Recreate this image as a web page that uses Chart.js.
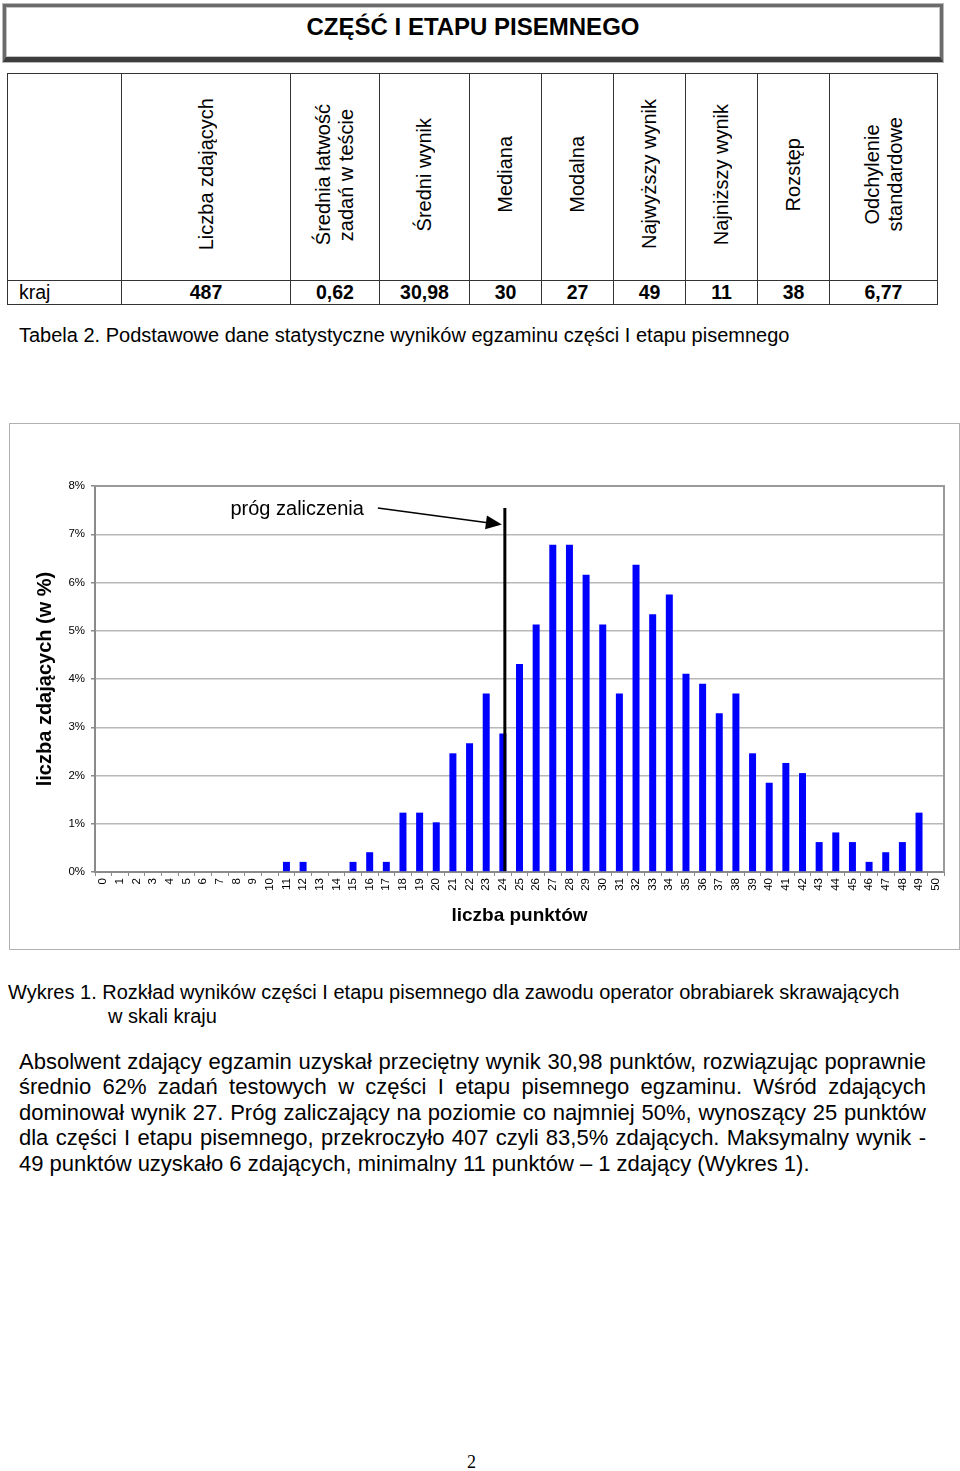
<!DOCTYPE html>
<html lang="pl">
<head>
<meta charset="utf-8">
<title>Część I etapu pisemnego</title>
<script src="https://cdn.jsdelivr.net/npm/chart.js@4"></script>
<style>
  html, body { margin: 0; padding: 0; background: #fff; }
  body { width: 960px; height: 1471px; position: relative; font-family: "Liberation Sans", Arial, sans-serif; color: #000; }
  .abs { position: absolute; }
  .titlebox {
    left: 3px; top: 4px; width: 940px; height: 58px; box-sizing: border-box;
    border: 3px solid #6b6b6b; border-bottom: 5px solid #3d3d3d;
    box-shadow: inset 0 0 0 1px #c4c4c4, 0 0 0 1px #b8b8b8;
    font-weight: bold; font-size: 24px; text-align: center; line-height: 40px;
  }
  table.stats { left: 7px; top: 73px; border-collapse: collapse; table-layout: fixed; width: 930px; }
  table.stats td { border: 1px solid #333; padding: 0; font-size: 19.5px; text-align: center; vertical-align: middle; }
  table.stats tr.head td { height: 206px; }
  table.stats tr.data td { height: 23px; font-weight: bold; line-height: 23px; }
  table.stats tr.data td.lbl { font-weight: normal; text-align: left; padding-left: 11px; }
  .rot { display: inline-block; writing-mode: vertical-rl; transform: rotate(180deg); font-size: 20px; line-height: 23px; text-align: center; white-space: nowrap; }
  .caption { font-size: 20px; line-height: 24px; white-space: nowrap; }
  .chartbox { left: 9px; top: 423px; width: 951px; height: 527px; box-sizing: border-box; border: 1px solid #b0b0b0; }
  .para div { width: 907px; font-size: 22px; line-height: 25.4px; height: 25.4px; white-space: nowrap; text-align: justify; text-align-last: justify; }
  .para div.last { text-align: left; text-align-last: left; }
</style>
</head>
<body>

<div class="abs titlebox">CZĘŚĆ I ETAPU PISEMNEGO</div>

<table class="abs stats">
  <colgroup>
    <col style="width:114px"><col style="width:169px"><col style="width:89px"><col style="width:90px">
    <col style="width:72px"><col style="width:72px"><col style="width:72px"><col style="width:72px">
    <col style="width:72px"><col style="width:108px">
  </colgroup>
  <tr class="head">
    <td></td>
    <td><div class="rot">Liczba zdających</div></td>
    <td><div class="rot">Średnia łatwość<br>zadań w teście</div></td>
    <td><div class="rot">Średni wynik</div></td>
    <td><div class="rot">Mediana</div></td>
    <td><div class="rot">Modalna</div></td>
    <td><div class="rot">Najwyższy wynik</div></td>
    <td><div class="rot">Najniższy wynik</div></td>
    <td><div class="rot">Rozstęp</div></td>
    <td><div class="rot">Odchylenie<br>standardowe</div></td>
  </tr>
  <tr class="data">
    <td class="lbl">kraj</td><td>487</td><td>0,62</td><td>30,98</td><td>30</td><td>27</td><td>49</td><td>11</td><td>38</td><td>6,77</td>
  </tr>
</table>

<div class="abs caption" style="left:19px; top:323px;">Tabela 2. Podstawowe dane statystyczne wyników egzaminu części I etapu pisemnego</div>

<div class="abs chartbox"><canvas id="chart-rozklad"></canvas></div>

<div class="abs caption" style="left:8px; top:980px;">Wykres 1. Rozkład wyników części I etapu pisemnego dla zawodu operator obrabiarek skrawających</div>
<div class="abs caption" style="left:108px; top:1004px;">w skali kraju</div>

<div class="abs para" style="left:19px; top:1049px;">
  <div>Absolwent zdający egzamin uzyskał przeciętny wynik 30,98 punktów, rozwiązując poprawnie</div>
  <div>średnio 62% zadań testowych w części I etapu pisemnego egzaminu. Wśród zdających</div>
  <div>dominował wynik 27. Próg zaliczający na poziomie co najmniej 50%, wynoszący 25 punktów</div>
  <div>dla części I etapu pisemnego, przekroczyło 407 czyli 83,5% zdających. Maksymalny wynik -</div>
  <div class="last">49 punktów uzyskało 6 zdających, minimalny 11 punktów – 1 zdający (Wykres 1).</div>
</div>

<div class="abs" style="left:467px; top:1452px; font-family:'Liberation Serif', serif; font-size:18px;">2</div>

<script>
// ── Data ─────────────────────────────────────────────────────────────────────

const scoreLabels = [
    '0', '1', '2', '3', '4', '5', '6', '7', '8', '9', '10',
    '11', '12', '13', '14', '15', '16', '17', '18', '19', '20',
    '21', '22', '23', '24', '25', '26', '27', '28', '29', '30',
    '31', '32', '33', '34', '35', '36', '37', '38', '39', '40',
    '41', '42', '43', '44', '45', '46', '47', '48', '49', '50',
];

// share of candidates (in %) for each score
const sharePercent = [
    0, 0, 0, 0, 0, 0, 0, 0, 0, 0, 0,
    0.21, 0.21, 0, 0, 0.21, 0.41, 0.21, 1.23, 1.23, 1.03,
    2.46, 2.67, 3.70, 2.87, 4.31, 5.13, 6.78, 6.78, 6.16, 5.13,
    3.70, 6.37, 5.34, 5.75, 4.11, 3.90, 3.29, 3.70, 2.46, 1.85,
    2.26, 2.05, 0.62, 0.82, 0.62, 0.21, 0.41, 0.62, 1.23, 0,
];

const yTickLabels = ['0%', '1%', '2%', '3%', '4%', '5%', '6%', '7%', '8%'];

const thresholdLabel = '24';
const thresholdText = 'próg zaliczenia';

// ── Helpers ──────────────────────────────────────────────────────────────────

Chart.defaults.font.family = '"Liberation Sans", Arial, sans-serif';
Chart.defaults.color = '#000';

const axisGray = '#8a8a8a';
const gridGray = '#b8b8b8';

// frame on top/right of the plot area
const plotFrame = {
    id: 'plotFrame',
    beforeDatasetsDraw(chart) {
        const { ctx, chartArea: a } = chart;
        ctx.save();
        ctx.strokeStyle = '#9a9a9a';
        ctx.lineWidth = 2;
        ctx.beginPath();
        ctx.moveTo(a.left, a.top);
        ctx.lineTo(a.right, a.top);
        ctx.lineTo(a.right, a.bottom);
        ctx.stroke();
        ctx.restore();
    },
};

// vertical pass-mark line with arrow and label
const passMark = {
    id: 'passMark',
    afterDatasetsDraw(chart) {
        const { ctx, chartArea: a, scales } = chart;
        const x = scales.x.getPixelForValue(scoreLabels.indexOf(thresholdLabel)) + 2;
        const yTop = a.top + 22;
        const yBot = scales.y.getPixelForValue(0) - 1;

        ctx.save();
        ctx.strokeStyle = '#000';
        ctx.fillStyle = '#000';

        ctx.lineWidth = 3;
        ctx.beginPath();
        ctx.moveTo(x, yTop);
        ctx.lineTo(x, yBot);
        ctx.stroke();

        // arrow
        const sx = x - 127, sy = yTop;
        const tx = x - 3, ty = yTop + 16.5;
        const ang = Math.atan2(ty - sy, tx - sx);
        const headLen = 16, headHalf = 7;
        const bx = tx - headLen * Math.cos(ang), by = ty - headLen * Math.sin(ang);
        ctx.lineWidth = 1.5;
        ctx.beginPath();
        ctx.moveTo(sx, sy);
        ctx.lineTo(bx, by);
        ctx.stroke();
        ctx.beginPath();
        ctx.moveTo(tx, ty);
        ctx.lineTo(bx + headHalf * Math.sin(ang), by - headHalf * Math.cos(ang));
        ctx.lineTo(bx - headHalf * Math.sin(ang), by + headHalf * Math.cos(ang));
        ctx.closePath();
        ctx.fill();

        ctx.font = '20px "Liberation Sans", Arial, sans-serif';
        ctx.textAlign = 'right';
        ctx.textBaseline = 'alphabetic';
        ctx.fillText(thresholdText, x - 141, yTop + 7);
        ctx.restore();
    },
};

// ── Chart ────────────────────────────────────────────────────────────────────

new Chart(document.getElementById('chart-rozklad'), {
    type: 'bar',
    data: {
        labels: scoreLabels,
        datasets: [
            {
                data: sharePercent,
                backgroundColor: '#0000ff',
                borderWidth: 0,
                barPercentage: 0.42,
                categoryPercentage: 1,
            },
        ],
    },
    options: {
        responsive: true,
        maintainAspectRatio: false,
        animation: false,
        layout: { padding: { left: 0, top: 62, right: 15, bottom: 21 } },
        plugins: {
            legend: { display: false },
            tooltip: { enabled: false },
        },
        scales: {
            x: {
                grid: { drawOnChartArea: false, drawTicks: true, tickLength: 4, tickColor: axisGray, offset: true },
                border: { color: axisGray, width: 2 },
                ticks: { font: { size: 11.5 }, minRotation: 90, maxRotation: 90, autoSkip: false, padding: 2 },
                title: {
                    display: true,
                    text: 'liczba punktów',
                    font: { size: 19, weight: 'bold' },
                    padding: { top: 0, bottom: 1 },
                },
                afterFit: (s) => { s.height = 56; },
            },
            y: {
                min: 0,
                max: 8,
                grid: { color: gridGray, lineWidth: 1.5, tickLength: 4, tickColor: axisGray },
                border: { color: axisGray, width: 2 },
                ticks: {
                    stepSize: 1,
                    font: { size: 11.5 },
                    padding: 6,
                    callback: (v) => yTickLabels[v],
                },
                title: {
                    display: true,
                    text: 'liczba zdających (w %)',
                    font: { size: 20, weight: 'bold' },
                    padding: { top: 23, bottom: 0 },
                },
                afterFit: (s) => { s.width = 85; },
            },
        },
    },
    plugins: [plotFrame, passMark],
});
</script>
</body>
</html>
